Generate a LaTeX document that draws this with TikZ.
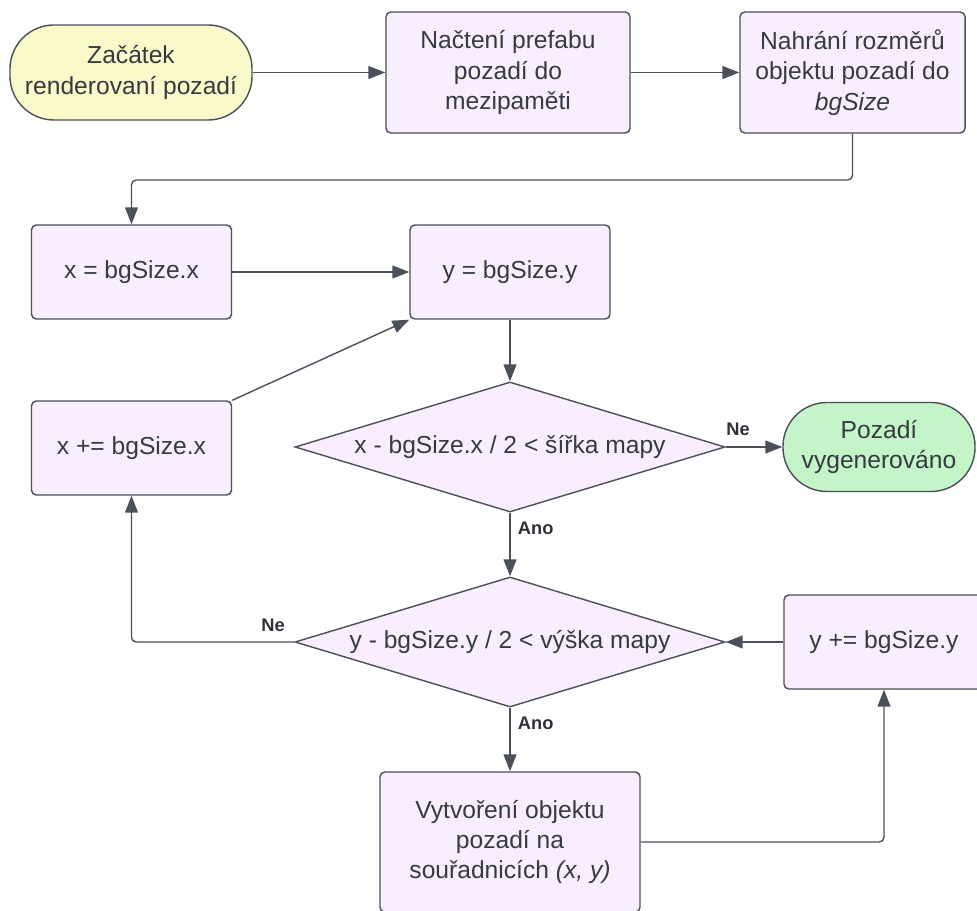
\documentclass[tikz,border=0pt]{standalone}
\usepackage{fontspec}
\setmainfont{Liberation Sans}
\usetikzlibrary{arrows.meta,shapes.geometric,positioning}
\definecolor{linegray}{HTML}{4B505A}
\definecolor{textgray}{HTML}{363A41}
\definecolor{procfill}{HTML}{F8EEFE}
\definecolor{startfill}{HTML}{FAF9C9}
\definecolor{endfill}{HTML}{C3F5C8}
\tikzset{
    process/.style={
        draw=linegray,line width=1pt,rounded corners=.12cm,
        fill=procfill,text=textgray,align=center,inner sep=2pt,
        minimum width=5cm,minimum height=2.35cm,
        font=\fontsize{17.5}{21.5}\selectfont
    },
    terminal/.style={process,rounded corners=1.1cm},
    decision/.style={
        diamond,aspect=3.3,draw=linegray,line width=1pt,
        fill=procfill,text=textgray,inner sep=1pt,
        minimum width=10.75cm,minimum height=3.25cm,
        font=\fontsize{17.5}{21.5}\selectfont
    },
    flow/.style={draw=linegray,line width=1pt,rounded corners=.12cm,->},
    answer/.style={inner sep=0pt,text=textgray!85!black,font=\bfseries\fontsize{13}{15}\selectfont},
    >={Triangle[length=.42cm,width=.32cm]}
}
\begin{document}
\begin{tikzpicture}[x=0.025cm,y=-0.025cm]
\clip (0,0) rectangle (977,911);
% top row
\node[terminal,fill=startfill,minimum width=6.05cm,minimum height=2.375cm] (start) at (131,72.5) {Začátek\\renderovaní pozadí};
\node[process,minimum width=6.1cm,minimum height=3.025cm] (prefab) at (508,72.5) {Načtení prefabu\\pozadí do\\mezipaměti};
\node[process,minimum width=5.625cm,minimum height=3.025cm] (rozmery) at (852.5,72.5) {Nahrání rozměrů\\objektu pozadí do\\\textit{bgSize}};
% loop over x and y
\node[process] (xinit) at (131.5,272) {x = bgSize.x};
\node[process] (yinit) at (510,272) {y = bgSize.y};
\node[process] (xinc) at (131.5,448) {x += bgSize.x};
\node[decision] (xtest) at (510,447) {x - bgSize.x / 2 < šířka mapy};
\node[terminal,fill=endfill,minimum width=4.8cm,minimum height=2.225cm] (konec) at (879,447) {Pozadí\\vygenerováno};
\node[decision] (ytest) at (510,642) {y - bgSize.y / 2 < výška mapy};
\node[process] (yinc) at (884,642) {y += bgSize.y};
\node[process,minimum width=6.5cm,minimum height=3.5cm] (vytvor) at (510,842) {Vytvoření objektu\\pozadí na\\souřadnicích \textit{(x, y)}};
\coordinate (bend) at (131.5,180);

\draw[flow] (start) -- (prefab);
\draw[flow] (prefab) -- (rozmery);
\draw[flow] (rozmery.south) |- (bend) -- (xinit.north);
\draw[flow] (xinit) -- (yinit);
\draw[flow] (yinit) -- (xtest);
\draw[flow] (xtest.east) node[answer,above right=.26cm and 0cm] {Ne} -- (konec);
\draw[flow] (xtest.south) node[answer,below right=.2cm and .18cm] {Ano} -- (ytest.north);
\draw[flow] (ytest.west) node[answer,above left=.25cm and .22cm] {Ne} -| (xinc.south);
\draw[flow] (xinc.north east) -- (yinit.south west);
\draw[flow] (ytest.south) node[answer,below right=.2cm and .18cm] {Ano} -- (vytvor.north);
\draw[flow] (vytvor.east) -| (yinc.south);
\draw[flow] (yinc.west) -- (ytest.east);
\end{tikzpicture}
\end{document}
